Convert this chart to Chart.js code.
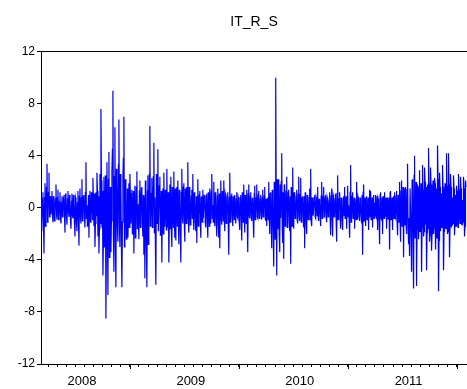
<!DOCTYPE html>
<html><head><meta charset="utf-8">
<script src="https://cdn.jsdelivr.net/npm/chart.js@4"></script>
<style>html,body{margin:0;padding:0;background:#fff}#wrap{width:467px;height:389px}</style>
</head><body><div id="wrap"><canvas id="c" width="467" height="389"></canvas></div>
<script>
const chartTitle = 'IT_R_S';
const startYear = 2008.1835;   // date (in years) of the first plotted observation
const obsPerYear = 109;        // plotted observation pairs per year
// main observations
const returns = [
0.8,-1.8,1.2,-3.5,1.9,-0.6,3.4,-0.4,2.7,0.2,
-0.5,1.3,-1.1,0.6,-0.3,1.8,-0.9,1.4,-0.6,1.2,
-1.2,0.9,-0.4,1.0,-1.9,0.5,-1.3,1.3,-0.7,0.3,
-1.6,1.1,-0.8,0.4,-2.2,0.6,-1.8,1.3,-2.9,1.5,
-1.2,2.2,-0.5,1.0,-1.5,3.5,0.2,-0.9,-2.3,1.3,
-0.6,0.8,2.3,-1.4,-3.0,1.2,2.7,-2.2,-3.5,2.6,
7.6,-1.5,-5.2,2.4,-1.0,-8.5,3.5,-6.7,4.3,-2.2,
-3.4,2.8,9.0,-4.9,6.2,-6.1,2.0,-2.6,6.8,-3.0,
1.5,-6.1,2.4,7.0,-2.6,0.8,-1.8,-2.3,1.9,2.6,
-1.2,1.4,-0.7,-3.5,1.7,-1.9,2.8,0.3,-2.4,2.1,
-0.8,1.6,-2.2,-3.6,-5.4,1.2,-6.1,2.5,-1.8,6.3,
-1.2,2.3,-0.6,5.0,0.8,-5.9,2.1,4.5,-1.8,2.4,
-0.9,-4.2,1.5,2.7,-1.3,0.6,3.0,-1.5,-4.2,1.8,
2.4,-3.0,0.9,2.8,-2.3,-2.5,1.6,2.1,-2.8,0.7,
-4.2,3.0,-1.2,1.9,-2.6,0.8,1.6,3.5,-1.9,1.1,
-1.0,1.4,2.6,-1.7,0.5,-1.8,-2.7,2.2,-0.6,1.3,
-2.3,0.9,1.4,-0.8,0.6,-1.5,1.1,-2.3,0.4,1.5,
-1.2,2.6,0.2,2.0,-1.4,0.8,-2.2,1.5,-2.3,-3.1,
2.1,-1.3,0.7,2.1,-1.8,0.9,-0.5,1.2,-3.6,2.7,
-0.9,1.1,-1.4,0.5,1.0,-1.2,1.2,-0.8,0.6,-1.7,
1.0,-2.5,0.7,1.8,-1.9,0.5,1.4,-3.4,1.8,-0.8,
1.2,-1.0,0.8,-2.3,1.7,-0.5,1.8,-0.8,1.3,-0.6,
1.0,-0.9,1.4,-0.3,1.6,-1.0,-1.4,0.8,2.0,-2.0,
1.2,-3.1,0.6,-4.5,0.9,10.0,-5.2,1.5,2.2,-3.4,
-0.8,4.2,-2.7,-3.9,1.6,-0.5,2.4,-1.0,1.4,-1.8,
-4.3,0.5,3.1,-1.6,0.6,-0.4,1.4,-1.2,2.4,-1.0,
2.3,-0.7,0.9,-1.5,-3.1,1.0,-2.0,0.7,-0.8,1.5,
3.0,-1.4,0.5,-0.6,1.0,-0.8,0.6,1.6,-1.0,0.4,
-1.4,2.0,-0.5,1.6,-0.5,1.0,-1.1,0.6,-0.4,1.2,
-2.1,1.5,-2.2,0.8,-0.6,1.1,-2.6,2.5,-0.3,1.2,
-1.6,0.4,-1.7,0.9,1.6,-0.5,-1.6,1.7,0.2,-2.3,
3.3,-0.8,1.2,-0.4,-1.6,0.7,2.0,-0.9,0.6,-1.0,
0.3,-1.2,-3.6,1.8,-0.5,-1.4,0.9,-0.6,-1.7,1.4,
1.3,-0.7,-1.5,1.0,0.4,1.0,-0.8,-1.7,0.5,-2.8,
1.2,-0.9,-2.0,0.6,1.2,-0.7,-1.6,0.8,-0.9,-3.2,
1.3,-0.6,-1.7,0.9,1.2,-0.8,1.3,-2.1,0.7,2.0,
-2.6,2.1,-1.2,-3.8,0.9,1.6,-2.0,3.4,-2.8,-3.7,
1.5,-4.9,2.2,-6.2,4.0,-1.5,-6.0,1.7,-2.4,2.9,
-1.0,-4.9,3.3,-2.2,3.1,-1.3,-4.8,1.8,4.6,-2.6,
3.1,-3.3,1.2,-2.0,2.3,-3.2,1.5,4.8,-6.4,2.7,
-1.8,1.1,3.3,-4.8,0.9,-1.5,4.2,-2.0,4.2,-3.8,
2.6,-1.4,0.8,2.5,-2.1,1.0,1.7,-0.9,2.6,-0.5,
2.4,-1.2,0.6,2.4,-2.2,2.1
];
// observations falling between the main ones
const returnsMid = [
-0.9,0.6,-1.2,0.8,-1.4,1.6,-1.1,1.2,-0.7,0.9,
0.4,-0.6,0.9,-1.0,0.7,-0.5,0.8,-0.9,0.5,-0.8,
0.4,-0.7,0.8,-0.6,1.1,-0.6,0.7,-0.3,1.0,-0.9,
0.5,-0.6,1.0,-1.2,0.8,-1.1,0.4,-1.0,0.9,-0.7,
0.8,-1.0,0.9,-0.7,1.2,-0.8,-1.4,1.0,0.6,-1.1,
1.2,-0.9,0.4,1.1,-1.2,-0.6,1.3,0.9,-1.6,-1.2,
2.1,1.3,-2.4,-3.0,2.5,-2.2,-1.5,2.2,-3.8,1.6,
-1.0,4.5,-2.1,2.4,-2.8,3.0,-1.5,3.3,-1.2,2.6,
-2.7,-1.1,3.8,-3.0,2.2,-2.4,1.5,-0.6,-1.5,0.9,
1.1,-2.0,1.3,1.2,-2.3,1.6,-1.6,-1.0,1.3,-1.5,
1.5,-1.2,1.0,0.8,2.1,-3.0,1.3,-2.8,2.6,-1.4,
1.1,-1.5,2.4,-1.9,-2.4,2.6,-1.2,-1.8,1.7,-2.1,
1.3,0.5,-2.0,-1.4,1.4,-1.7,-1.0,1.2,-0.6,-1.6,
-1.8,1.6,-1.5,-0.9,1.5,1.0,-1.4,-0.9,1.4,-2.0,
1.2,-0.6,1.6,-1.3,1.5,-1.2,-0.8,-1.1,1.6,-1.3,
0.9,-0.8,-0.6,1.2,-1.1,0.9,0.7,-1.4,1.0,-1.2,
0.8,-1.1,-0.8,1.0,-1.2,0.9,-1.0,1.2,-1.4,-0.6,
1.3,-0.8,-1.1,-0.7,1.2,-1.3,0.9,-1.2,1.1,0.8,
-0.9,1.3,-1.0,-0.8,1.1,-1.2,0.9,-1.4,0.8,-1.1,
0.9,-0.8,0.9,-0.9,-0.6,0.7,-0.7,0.8,-1.1,0.8,
-0.7,1.2,-1.1,-0.6,1.0,-1.2,-0.9,1.1,-0.6,0.9,
-0.8,0.7,-1.0,1.1,-0.9,0.8,-0.7,1.0,-0.8,0.7,
-0.6,0.8,-0.7,0.9,-0.8,0.7,0.5,-0.9,-0.6,1.1,
-1.3,1.4,-1.8,2.0,-2.4,1.0,2.2,-1.6,-2.1,1.8,
2.0,-1.5,1.2,1.8,-1.4,1.3,-1.5,1.2,-1.1,0.9,
1.6,-1.4,-0.9,1.2,-0.8,0.9,-0.9,1.1,-0.7,1.0,
-1.1,0.8,-0.9,0.9,1.2,-1.2,1.0,-0.9,0.8,-0.9,
-1.0,0.8,-0.6,0.8,-0.7,0.8,-0.6,-0.7,0.7,-0.6,
0.9,-0.8,0.9,-0.7,0.8,-0.6,0.8,-0.7,0.6,-0.9,
0.9,-0.8,1.0,-0.7,0.7,-1.0,1.1,-0.9,0.7,-0.8,
0.8,-0.9,0.7,-0.6,-0.8,0.9,0.8,-0.7,-0.9,1.2,
-1.1,0.9,-0.8,0.8,0.7,-0.9,-0.7,0.8,-0.7,0.8,
-0.6,1.0,1.2,-1.0,0.8,0.7,-0.9,0.8,0.6,-0.7,
-0.9,0.8,0.7,-0.8,-0.6,-0.7,0.9,0.7,-0.9,1.0,
-0.8,0.8,0.9,-0.8,-0.7,0.8,0.7,-0.9,0.8,1.2,
-0.9,0.8,0.7,-0.8,-0.7,0.9,-1.0,1.0,-1.1,-0.9,
1.3,-1.4,1.6,1.5,-1.3,-1.1,1.4,-1.6,-0.8,1.5,
-1.9,2.1,-2.4,2.5,-2.3,2.0,-1.7,1.6,-1.5,-1.8,
1.9,-1.5,1.4,-1.8,2.0,1.6,-1.9,-1.6,1.9,-2.1,
1.8,-2.0,2.1,-1.5,1.9,-1.4,-2.3,2.2,-2.5,1.6,
-1.2,-1.5,1.6,-1.8,1.9,-1.6,1.7,-1.8,1.8,-1.4,
1.6,-1.3,-1.2,1.5,-1.2,-1.4,1.3,-1.5,1.4,-1.2,
1.5,-1.3,-1.1,1.5,-1.4,1.6
];
const yearLabels = ['2008', '2009', '2010', '2011'];
const yearStarts = [2008, 2009, 2010, 2011, 2012];
const yTicks = [-12, -8, -4, 0, 4, 8, 12];
const labelOffset = 0.56;

const xMin = startYear;
const xMax = startYear + (returns.length + 0.5) / obsPerYear;
const points = [];
returns.forEach((v, i) => {
  points.push({ x: startYear + i / obsPerYear, y: v });
  if (i < returnsMid.length) points.push({ x: startYear + (i + 0.5) / obsPerYear, y: returnsMid[i] });
});

const monthTicks = [];
yearStarts.forEach(y => { for (let m = 0; m < 12; m++) { const v = y + m / 12; if (v > xMin && v < xMax - 0.02) monthTicks.push(v); } });
const labelTicks = yearLabels.map(l => Number(l) + labelOffset);
const isLabelTick = v => labelTicks.some(t => Math.abs(t - v) < 1e-6);
const labelFor = v => { const k = labelTicks.findIndex(t => Math.abs(t - v) < 1e-6); return k >= 0 ? yearLabels[k] : ''; };

const yearTickPlugin = {
  id: 'yearTicks',
  afterDraw(chart) {
    const s = chart.scales.x, ctx = chart.ctx;
    ctx.save(); ctx.strokeStyle = '#000'; ctx.lineWidth = 1;
    yearStarts.forEach(y => {
      if (y <= xMin || y >= xMax) return;
      const px = Math.round(s.getPixelForValue(y)) + 0.5;
      ctx.beginPath(); ctx.moveTo(px, s.top); ctx.lineTo(px, s.top + 5); ctx.stroke();
    });
    ctx.restore();
  }
};

new Chart(document.getElementById('c'), {
  type: 'line',
  data: { datasets: [{ data: points, borderColor: '#0000FF', borderWidth: 1.2, pointRadius: 0, tension: 0, fill: false }] },
  options: {
    responsive: false, animation: false, devicePixelRatio: 1,
    layout: { padding: { left: 0, right: 0, top: 0, bottom: 0 } },
    plugins: {
      legend: { display: false }, tooltip: { enabled: false },
      title: { display: true, text: chartTitle, fullSize: false, color: '#000',
        font: { family: 'Liberation Sans, Arial, sans-serif', size: 14, weight: 'normal' },
        padding: { top: 14, bottom: 13 } }
    },
    scales: {
      x: {
        type: 'linear', position: 'bottom', min: xMin, max: xMax,
        afterBuildTicks: s => { s.ticks = monthTicks.concat(labelTicks).sort((a, b) => a - b).map(v => ({ value: v })); },
        afterFit: s => { s.height = 25; },
        grid: { display: true, drawOnChartArea: false, drawTicks: true, tickLength: 3,
          tickColor: c => (c.tick && isLabelTick(c.tick.value)) ? 'rgba(0,0,0,0)' : '#000' },
        border: { display: true, color: '#000', width: 1 },
        ticks: { autoSkip: false, maxRotation: 0, minRotation: 0, padding: 7, color: '#000',
          font: { family: 'Liberation Sans Narrow, Arial Narrow, Liberation Sans, sans-serif', size: 13 },
          callback: v => labelFor(v) }
      },
      xTop: {
        type: 'linear', position: 'top', min: xMin, max: xMax,
        grid: { display: false }, ticks: { display: false },
        border: { display: true, color: '#000', width: 1 }
      },
      y: {
        min: -12, max: 12,
        afterBuildTicks: s => { s.ticks = yTicks.map(v => ({ value: v })); },
        afterFit: s => { s.width = 41; },
        grid: { display: true, drawOnChartArea: false, drawTicks: true, tickLength: 4, tickColor: '#000' },
        border: { display: true, color: '#000', width: 1 },
        ticks: { padding: 2, color: '#000', font: { family: 'Liberation Sans, Arial, sans-serif', size: 12 } }
      }
    }
  },
  plugins: [yearTickPlugin]
});
</script></body></html>
